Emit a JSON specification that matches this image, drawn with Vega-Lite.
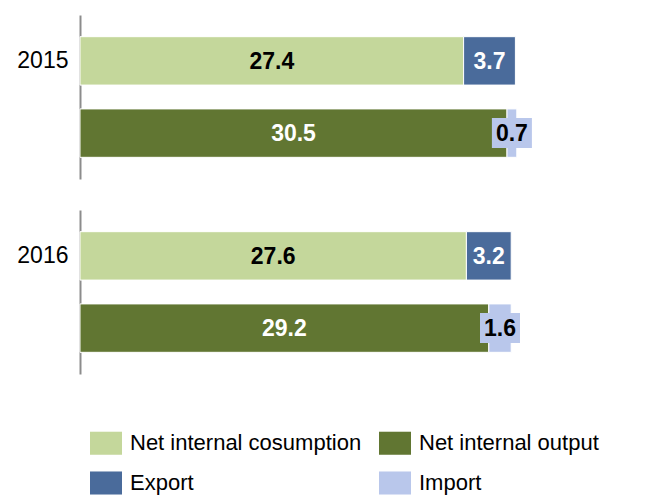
{
  "$schema": "https://vega.github.io/schema/vega-lite/v6.json",
  "padding": {"left": 16, "top": 15, "right": 5, "bottom": 5},
  "background": "white",
  "data": {"values": [
    {"year": "2015", "bar": "2015", "series": "Net internal cosumption", "value": 27.4},
    {"year": "2015", "bar": "2015", "series": "Export", "value": 3.7},
    {"year": "2015", "bar": "2015 output", "series": "Net internal output", "value": 30.5},
    {"year": "2015", "bar": "2015 output", "series": "Import", "value": 0.7},
    {"year": "2016", "bar": "2016", "series": "Net internal cosumption", "value": 27.6},
    {"year": "2016", "bar": "2016", "series": "Export", "value": 3.2},
    {"year": "2016", "bar": "2016 output", "series": "Net internal output", "value": 29.2},
    {"year": "2016", "bar": "2016 output", "series": "Import", "value": 1.6}
  ]},
  "facet": {"row": {"field": "year", "type": "nominal", "header": null}},
  "spacing": 31,
  "resolve": {"scale": {"y": "independent"}},
  "spec": {
    "width": 560,
    "height": 164,
    "encoding": {
      "y": {
        "field": "bar", "type": "nominal",
        "scale": {"paddingInner": 0.33, "paddingOuter": 0.3},
        "axis": {
          "title": null, "ticks": false, "grid": false,
          "labelExpr": "length(datum.label) == 4 ? datum.label : ''",
          "labelFontSize": 23, "labelFont": "Liberation Sans", "labelColor": "black",
          "labelPadding": 12, "domainColor": "#8c8c8c", "domainWidth": 2
        }
      },
      "order": {"field": "series", "sort": "descending"}
    },
    "layer": [
      {
        "mark": {"type": "bar", "stroke": "white", "strokeWidth": 1},
        "encoding": {
          "x": {
            "field": "value", "type": "quantitative", "stack": "zero",
            "scale": {"domain": [0, 40]}, "axis": null
          },
          "color": {
            "field": "series", "type": "nominal",
            "sort": ["Net internal cosumption", "Net internal output", "Export", "Import"],
            "scale": {
              "domain": ["Net internal cosumption", "Net internal output", "Export", "Import"],
              "range": ["#C4D79B", "#617632", "#4A6B9B", "#B9C7EB"]
            },
            "legend": {
              "title": null, "orient": "none", "legendX": 10, "legendY": 412,
              "direction": "horizontal",
              "columns": 2, "columnPadding": 17, "rowPadding": 12,
              "symbolType": "M-1,-0.72H1V0.72H-1Z", "symbolSize": 1024,
              "symbolStrokeWidth": 0, "symbolOpacity": 1,
              "labelFontSize": 22, "labelFont": "Liberation Sans", "labelColor": "black",
              "labelOffset": 8, "labelLimit": 0
            }
          }
        }
      },
      {
        "mark": {"type": "point", "shape": "M-1,-0.75H1V0.75H-1Z", "filled": true, "size": 1600, "strokeWidth": 0, "color": "#B9C7EB"},
        "encoding": {
          "x": {
            "field": "value", "type": "quantitative", "stack": "zero",
            "bandPosition": 0.5, "axis": null
          },
          "detail": {"field": "series"},
          "opacity": {"condition": {"test": "datum.series === 'Import'", "value": 1}, "value": 0}
        }
      },
      {
        "mark": {"type": "text", "font": "Liberation Sans", "fontSize": 23, "fontWeight": "bold", "baseline": "middle", "dy": 1},
        "encoding": {
          "x": {
            "field": "value", "type": "quantitative", "stack": "zero",
            "bandPosition": 0.5, "axis": null
          },
          "detail": {"field": "series"},
          "text": {"field": "value", "type": "quantitative", "format": ".1f"},
          "color": {"condition": {"test": "datum.series === 'Export' || datum.series === 'Net internal output'", "value": "white"}, "value": "black"}
        }
      }
    ]
  },
  "config": {"view": {"stroke": null}}
}
